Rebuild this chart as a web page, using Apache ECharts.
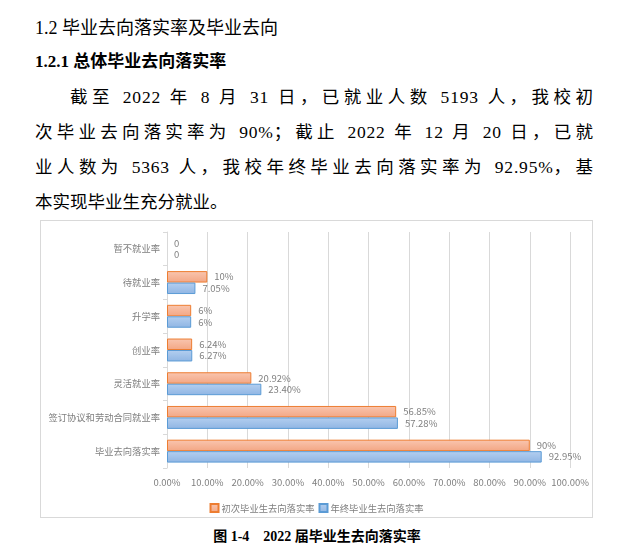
<!DOCTYPE html>
<html>
<head>
<meta charset="utf-8">
<script src="https://cdn.jsdelivr.net/npm/echarts@6/dist/echarts.min.js"></script>
<style>
  html, body { margin: 0; padding: 0; background: #fff; }
  body { width: 640px; height: 551px; position: relative; overflow: hidden;
         font-family: "Liberation Serif", "Noto Sans CJK SC", serif; color: #000; }
  .t { position: absolute; white-space: nowrap; }
  #h1 { left: 35px; top: 16px; font-size: 18px; line-height: 24px; }
  #h2 { left: 35px; top: 50px; font-size: 17px; line-height: 24px; font-weight: bold; }
  .p { position: absolute; font-size: 17.5px; line-height: 24px; white-space: pre; }
  .lat { letter-spacing: 0.8px; }
  #chartBox { position: absolute; left: 40px; top: 220px; width: 551px; height: 296px;
              border: 1px solid #d9d9d9; }
  #chart { width: 551px; height: 296px; }
  #cap { left: 0; width: 634px; text-align: center; top: 526px; font-size: 14px; line-height: 22px; font-weight: bold; }
</style>
</head>
<body>
<div class="t" id="h1">1.2 毕业去向落实率及毕业去向</div>
<div class="t" id="h2">1.2.1 总体毕业去向落实率</div>
<div class="p just" data-left="70" data-right="593" style="top:85px; left:70px;">截至 2022 年 8 月 31 日，已就业人数 5193 人，我校初</div>
<div class="p just" data-left="35" data-right="593" style="top:120px; left:35px;">次毕业去向落实率为 90%；截止 2022 年 12 月 20 日，已就</div>
<div class="p just" data-left="35" data-right="593" style="top:155px; left:35px;">业人数为 5363 人，我校年终毕业去向落实率为 92.95%，基</div>
<div class="p" style="top:190px; left:35px;">本实现毕业生充分就业。</div>
<div id="chartBox"><div id="chart"></div></div>
<div class="t" id="cap">图 1-4&nbsp;&nbsp;&nbsp;&nbsp;2022 届毕业生去向落实率</div>
<script>
// justify paragraph lines: spread extra space over CJK chars and spaces, keep digit runs tight
document.querySelectorAll('.just').forEach(el => {
  const text = el.textContent;
  const parts = text.split(/([0-9.%]+)/);
  el.textContent = '';
  let k = 0;
  parts.forEach((s, i) => {
    if (!s) return;
    if (i % 2 === 1) {
      const sp = document.createElement('span');
      sp.className = 'lat';
      sp.textContent = s;
      el.appendChild(sp);
    } else {
      const sp = document.createElement('span');
      sp.className = 'cj';
      sp.textContent = s;
      el.appendChild(sp);
      k += Array.from(s).length;
    }
  });
  const target = parseFloat(el.dataset.right) - parseFloat(el.dataset.left);
  const natural = el.getBoundingClientRect().width;
  const ls = (target - natural) / (k - 1);
  el.querySelectorAll('.cj').forEach(sp => sp.style.letterSpacing = ls + 'px');
});

const categories = ['毕业去向落实率', '签订协议和劳动合同就业率', '灵活就业率', '创业率', '升学率', '待就业率', '暂不就业率'];
const seriesNames = ['初次毕业生去向落实率', '年终毕业生去向落实率'];
const firstValues = [90, 56.85, 20.92, 6.24, 6, 10, 0];
const firstLabels = ['90%', '56.85%', '20.92%', '6.24%', '6%', '10%', '0'];
const finalValues = [92.95, 57.28, 23.40, 6.27, 6, 7.05, 0];
const finalLabels = ['92.95%', '57.28%', '23.40%', '6.27%', '6%', '7.05%', '0'];
const xTicks = [0, 10, 20, 30, 40, 50, 60, 70, 80, 90, 100];

const chart = echarts.init(document.getElementById('chart'), null, { renderer: 'canvas' });
const grayText = '#7f7f7f';
const cjk = '"Noto Sans CJK SC", sans-serif';

function mkSeries(name, values, labels, c1, c2, border) {
  return {
    name: name,
    type: 'bar',
    barGap: '0%',
    barCategoryGap: '32%',
    data: values.map(v => v === 0 ? { value: v, itemStyle: { borderWidth: 0, color: 'rgba(0,0,0,0)' } } : v),
    itemStyle: {
      color: new echarts.graphic.LinearGradient(0, 0, 0, 1, [
        { offset: 0, color: c1 }, { offset: 1, color: c2 }
      ]),
      borderColor: border,
      borderWidth: 1
    },
    label: {
      show: true,
      position: 'right',
      distance: 7,
      color: grayText,
      fontSize: 9.5,
      fontFamily: cjk,
      formatter: p => labels[p.dataIndex]
    }
  };
}

chart.setOption({
  animation: false,
  backgroundColor: '#fff',
  grid: { left: 126, right: 20, top: 11, bottom: 49, containLabel: false },
  legend: {
    data: seriesNames,
    left: 'center',
    top: 277,
    itemWidth: 8,
    itemHeight: 8,
    itemGap: 4,
    icon: 'rect',
    textStyle: { color: grayText, fontSize: 9.3, fontFamily: cjk, padding: [0, 0, 0, -2] }
  },
  xAxis: {
    type: 'value',
    min: 0,
    max: 100,
    interval: 10,
    axisLine: { show: false },
    axisTick: { show: false },
    splitLine: { show: true, lineStyle: { color: '#d9d9d9', width: 1 } },
    axisLabel: {
      color: grayText, fontSize: 9.5, fontFamily: cjk, margin: 10,
      formatter: v => (xTicks.indexOf(v) >= 0 ? v.toFixed(2) + '%' : '')
    }
  },
  yAxis: {
    type: 'category',
    data: categories,
    axisLine: { show: true, lineStyle: { color: '#d9d9d9' } },
    axisTick: { show: true, length: 4, lineStyle: { color: '#d9d9d9' } },
    axisLabel: { color: grayText, fontSize: 9.3, fontFamily: cjk, margin: 7 }
  },
  series: [
    mkSeries(seriesNames[0], firstValues, firstLabels, '#f9c6b0', '#f3a683', '#ed7d31'),
    mkSeries(seriesNames[1], finalValues, finalLabels, '#b4cff0', '#8fb5e3', '#5b9bd5')
  ]
});
</script>
</body>
</html>
